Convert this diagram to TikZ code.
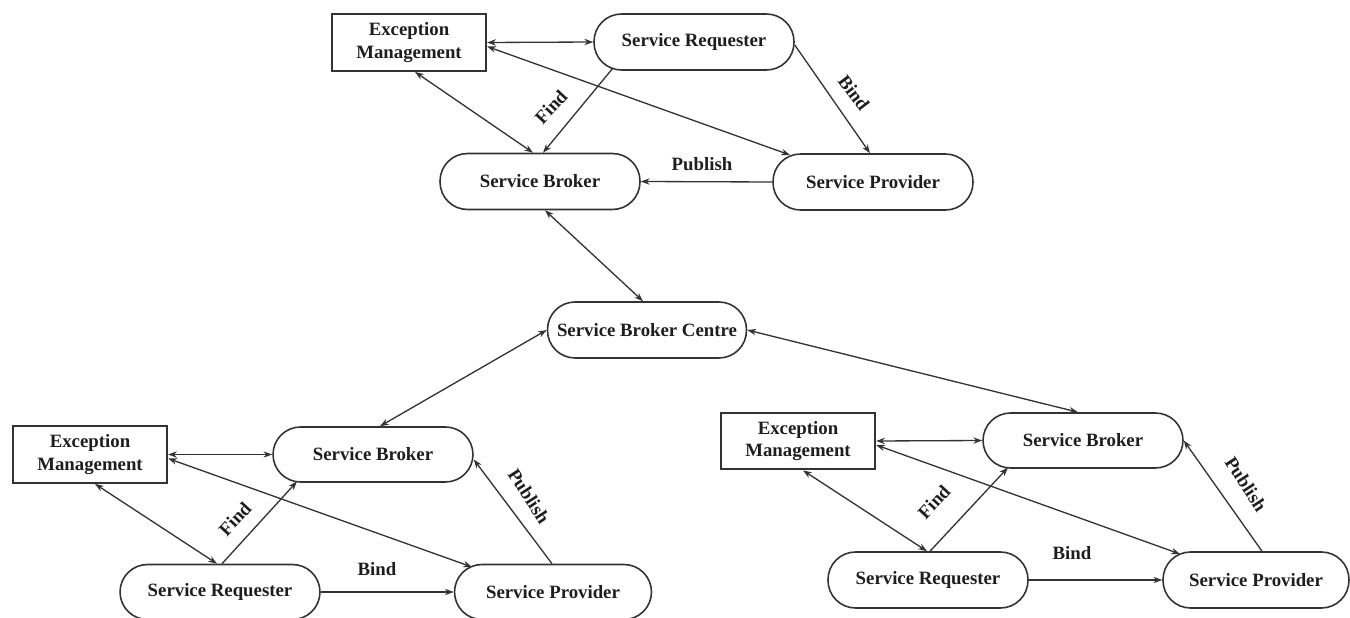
\documentclass[tikz,border=0pt]{standalone}
\usepackage{fontspec}
\setmainfont{Liberation Serif}
\usetikzlibrary{arrows.meta,calc}

\definecolor{ink}{HTML}{1E1E1E}
\definecolor{wire}{HTML}{333333}

\tikzset{
  x=0.02cm, y=-0.02cm,
  lbl/.style={font=\fontsize{10.7}{13}\selectfont\bfseries, text=ink, inner sep=0pt},
  pill/.style={lbl, draw=wire, line width=0.9pt, rounded corners=0.55cm,
    minimum width=4cm, minimum height=1.12cm, fill=white},
  exbox/.style={lbl, draw=wire, line width=1.3pt, align=center,
    minimum width=3.08cm, minimum height=1.13cm, fill=white},
  link/.style={draw=wire, line width=0.75pt, -{Stealth[length=5pt,width=3.6pt]}},
  twoway/.style={link, {Stealth[length=5pt,width=3.6pt]}-{Stealth[length=5pt,width=3.6pt]}},
}

\begin{document}
\begin{tikzpicture}
\useasboundingbox (0,0) rectangle (1350,618);

% ---------- upper domain ----------
\node[exbox] (emT) at (409,42.5) {Exception\\Management};
\node[pill]  (srT) at (694,42) {Service Requester};
\node[pill]  (sbT) at (540,181.5) {Service Broker};
\node[pill]  (spT) at (873,182) {Service Provider};

% ---------- centre ----------
\node[pill, minimum width=3.98cm] (sbc) at (647,330) {Service Broker Centre};

% ---------- lower left domain ----------
\node[exbox] (emL) at (90,454.5) {Exception\\Management};
\node[pill, minimum height=1.1cm] (sbL) at (373,454.5) {Service Broker};
\node[pill, minimum height=1.1cm] (srL) at (220,592) {Service Requester};
\node[pill, minimum height=1.1cm, minimum width=3.94cm] (spL) at (553,592) {Service Provider};

% ---------- lower right domain ----------
\node[exbox] (emR) at (798,441) {Exception\\Management};
\node[pill, minimum height=1.1cm] (sbR) at (1083,440.5) {Service Broker};
\node[pill] (srR) at (928,580) {Service Requester};
\node[pill, minimum width=3.72cm] (spR) at (1256,580) {Service Provider};

% ---------- upper domain links ----------
\draw[twoway] (emT.east) -- (srT.west);
\draw[twoway] ($(emT.east)+(0,4)$) -- ($(spT.center)+(-83,-27)$);
\draw[twoway] ($(emT.south)+(6,0)$) -- ($(sbT.north)+(-7,0)$);
\draw[link] ($(srT.center)+(-81,26)$) -- ($(sbT.north)+(3,0)$);
\draw[link] ($(srT.east)+(0,3)$) -- ($(spT.north)+(-3,0)$);
\draw[link] (spT.west) -- (sbT.east);

\node[lbl, rotate=47] (findT) at (551,107) {Find};
\node[lbl, rotate=-53] (bindT) at (854,93) {Bind};
\node[lbl] (pubT) at (702,164) {Publish};

% ---------- links to the centre ----------
\draw[twoway] ($(sbT.south)+(5,0)$) -- ($(sbc.north)+(-4,0)$);
\draw[twoway] (sbc.west) -- ($(sbL.north)+(7,0)$);
\draw[twoway] (sbc.east) -- ($(sbR.north)+(-5,0)$);

% ---------- lower left domain links ----------
\draw[twoway] (emL.east) -- (sbL.west);
\draw[twoway] ($(emL.east)+(0,4)$) -- ($(spL.center)+(-81,-25)$);
\draw[twoway] ($(emL.south)+(5,0)$) -- ($(srL.north)+(-3,0)$);
\draw[link] ($(srL.north)+(2,0)$) -- ($(sbL.center)+(-76,27)$);
\draw[link] (srL.east) -- (spL.west);
\draw[link] ($(spL.north)+(-1,0)$) -- ($(sbL.east)+(0,5)$);

\node[lbl, rotate=47] (findL) at (235,519) {Find};
\node[lbl] (bindL) at (377,569) {Bind};
\node[lbl, rotate=-57] (pubL) at (529,496) {Publish};

% ---------- lower right domain links ----------
\draw[twoway] (emR.east) -- (sbR.west);
\draw[twoway] ($(emR.east)+(0,4)$) -- ($(spR.center)+(-76,-26)$);
\draw[twoway] ($(emR.south)+(5,0)$) -- ($(srR.north)+(-1,0)$);
\draw[link] ($(srR.north)+(2,0)$) -- ($(sbR.center)+(-75,27)$);
\draw[link] (srR.east) -- (spR.west);
\draw[link] ($(spR.north)+(6,0)$) -- (sbR.east);

\node[lbl, rotate=47] (findR) at (934,502) {Find};
\node[lbl] (bindR) at (1072,553) {Bind};
\node[lbl, rotate=-57] (pubR) at (1246,484) {Publish};

\end{tikzpicture}
\end{document}
